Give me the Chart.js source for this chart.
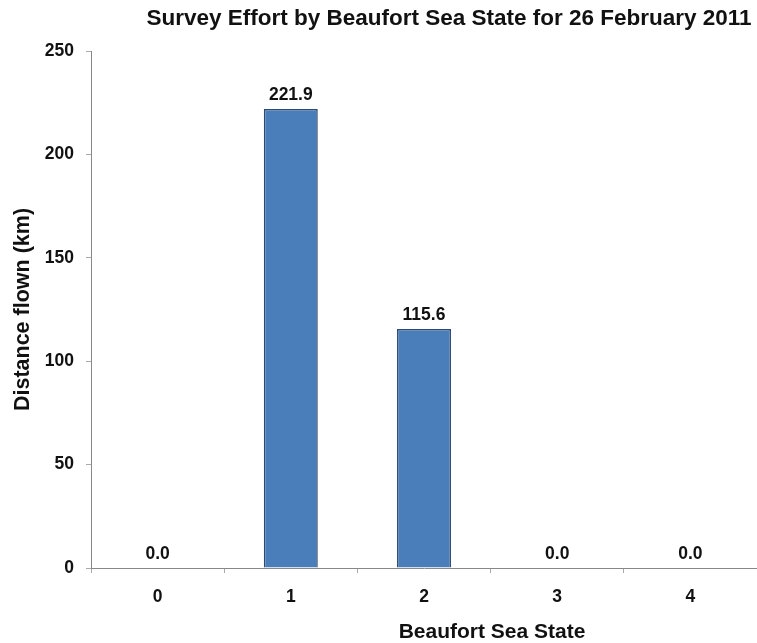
<!DOCTYPE html>
<html>
<head>
<meta charset="utf-8">
<script src="https://cdn.jsdelivr.net/npm/chart.js@4/dist/chart.umd.min.js"></script>
<style>
  html, body { margin: 0; padding: 0; background: #fff; }
  #wrap { width: 757px; height: 643px; position: relative; }
</style>
</head>
<body>
<div id="wrap"><canvas id="chart"></canvas></div>
<script>
const seaStates = ['0', '1', '2', '3', '4'];
const distanceKm = [0.0, 221.9, 115.6, 0.0, 0.0];
const yTicks = [0, 50, 100, 150, 200, 250];

const chartTitle = 'Survey Effort by Beaufort Sea State for 26 February 2011';
const xTitle = 'Beaufort Sea State';
const yTitle = 'Distance flown (km)';

const FONT = '"Liberation Sans", Arial, sans-serif';

// titles and value labels drawn by hand (no datalabels plugin offline)
const extraText = {
	id: 'extraText',
	afterDatasetsDraw(chart) {
		const ctx = chart.ctx;
		const meta = chart.getDatasetMeta(0);
		ctx.save();
		ctx.fillStyle = '#111';
		ctx.textAlign = 'center';
		ctx.textBaseline = 'alphabetic';
		ctx.font = 'bold 17.5px ' + FONT;
		meta.data.forEach((bar, i) => {
			ctx.fillText(distanceKm[i].toFixed(1), bar.x, bar.y - 9);
		});

		ctx.textBaseline = 'middle';
		ctx.font = 'bold 22.5px ' + FONT;
		ctx.fillText(chartTitle, 449, 19);

		ctx.font = 'bold 21px ' + FONT;
		ctx.fillText(xTitle, 492, 632);
		ctx.restore();
	}
};

const ctx = document.getElementById('chart').getContext('2d');
new Chart(ctx, {
	type: 'bar',
	data: {
		labels: seaStates,
		datasets: [{
			data: distanceKm,
			backgroundColor: '#4a7ebb',
			borderColor: '#2b4a72',
			borderWidth: 1.5,
			categoryPercentage: 1,
			barPercentage: 0.405
		}]
	},
	options: {
		responsive: true,
		maintainAspectRatio: false,
		animation: false,
		layout: { padding: { top: 51, right: 0, left: 0, bottom: 0 } },
		plugins: {
			legend: { display: false },
			tooltip: { enabled: false }
		},
		scales: {
			x: {
				grid: { display: true, drawOnChartArea: false, tickLength: 5, color: '#aaa' },
				border: { color: '#888', width: 1 },
				ticks: { color: '#111', font: { family: FONT, size: 17.5, weight: 'bold' }, padding: 14 },
				afterFit(scale) { scale.height = 75; }
			},
			y: {
				min: 0,
				max: 250,
				afterBuildTicks(scale) { scale.ticks = yTicks.map(v => ({ value: v })); },
				grid: { drawOnChartArea: false, tickLength: 5, color: '#aaa' },
				border: { color: '#888', width: 1 },
				ticks: { color: '#111', font: { family: FONT, size: 17.5, weight: 'bold' }, padding: 12 },
				title: {
					display: true,
					text: yTitle,
					color: '#111',
					font: { family: FONT, size: 21.5, weight: 'bold' },
					padding: { top: 10, bottom: 0 }
				},
				afterFit(scale) { scale.width = 91; }
			}
		}
	},
	plugins: [extraText]
});
</script>
</body>
</html>
